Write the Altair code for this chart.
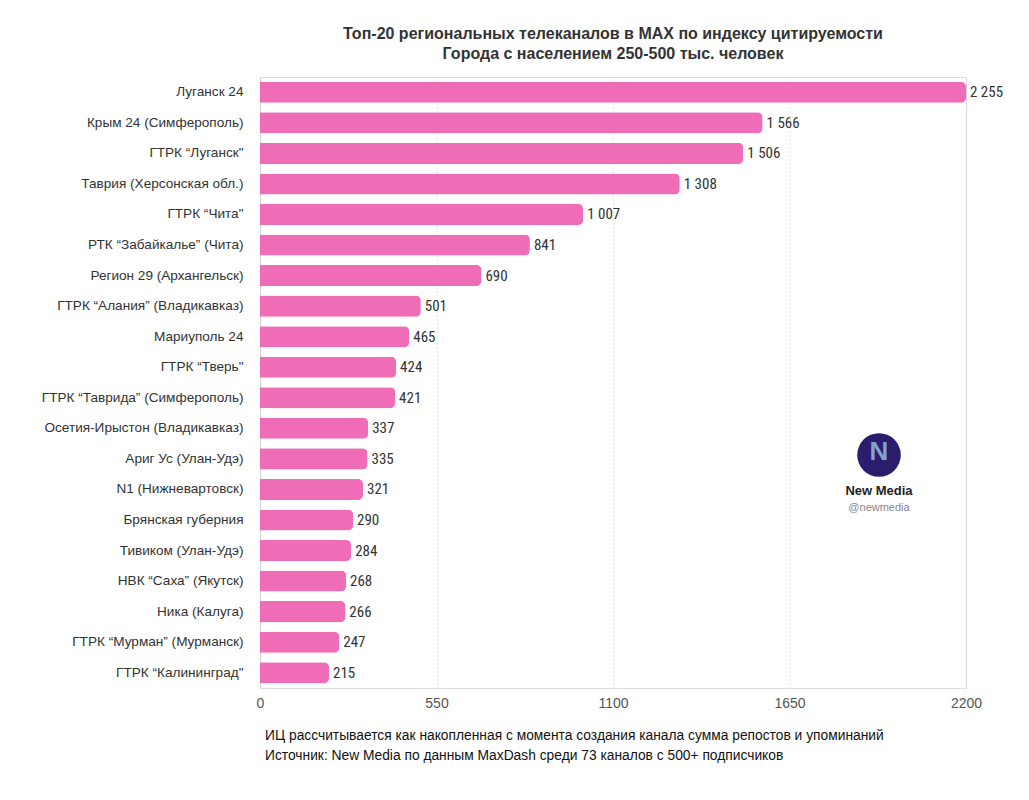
import altair as alt
import pandas as pd

channels = [
    "Луганск 24",
    "Крым 24 (Симферополь)",
    "ГТРК “Луганск\"",
    "Таврия (Херсонская обл.)",
    "ГТРК “Чита\"",
    "РТК “Забайкалье” (Чита)",
    "Регион 29 (Архангельск)",
    "ГТРК “Алания” (Владикавказ)",
    "Мариуполь 24",
    "ГТРК “Тверь\"",
    "ГТРК “Таврида” (Симферополь)",
    "Осетия-Ирыстон (Владикавказ)",
    "Ариг Ус (Улан-Удэ)",
    "N1 (Нижневартовск)",
    "Брянская губерния",
    "Тивиком (Улан-Удэ)",
    "НВК “Саха” (Якутск)",
    "Ника (Калуга)",
    "ГТРК “Мурман” (Мурманск)",
    "ГТРК “Калининград\"",
]
values = [2255, 1566, 1506, 1308, 1007, 841, 690, 501, 465, 424,
          421, 337, 335, 321, 290, 284, 268, 266, 247, 215]
x_ticks = [0, 550, 1100, 1650, 2200]

title_lines = [
    "Топ-20 региональных телеканалов в MAX по индексу цитируемости",
    "Города с населением 250-500 тыс. человек",
]
footer_lines = [
    "ИЦ рассчитывается как накопленная с момента создания канала сумма репостов и упоминаний",
    "Источник: New Media по данным MaxDash среди 73 каналов с 500+ подписчиков",
]
brand_name = "New Media"
brand_handle = "@newmedia"

W, H = 706, 611
FONT = "Liberation Sans, Arial, sans-serif"

df = pd.DataFrame({
    "channel": channels,
    "value": values,
    "label": [f"{v:,}".replace(",", " ") for v in values],
})

x_scale = alt.Scale(domain=[0, 2200], clamp=True, nice=False)
y_enc = alt.Y("channel:N", sort=channels,
              scale=alt.Scale(paddingInner=0.31, paddingOuter=0.155),
              axis=alt.Axis(title=None, labelFontSize=13.6, labelColor="#333333",
                            labelFont=FONT,
                            labelPadding=17, ticks=False, domain=True,
                            domainColor="#d0d0d0", domainWidth=1, grid=False,
                            labelLimit=300))

base = alt.Chart(df)

bars = base.mark_bar(color="#EF6DB7", cornerRadiusEnd=5).encode(
    x=alt.X("value:Q", scale=x_scale,
            axis=alt.Axis(values=x_ticks, title=None, labelFontSize=14,
                          labelColor="#555555",
                          labelFont=FONT, labelFlush=False,
                          labelPadding=8, ticks=False, domain=False,
                          grid=True, gridColor="#cccccc", gridDash=[1, 3],
                          gridWidth=1, format="d")),
    y=y_enc,
)

labels = base.mark_text(align="left", baseline="middle", dx=4, fontSize=15,
                        color="#333333",
                        font="Liberation Sans Narrow, Roboto Condensed, DejaVu Sans Condensed, sans-serif"
                        ).encode(
    x=alt.X("value:Q", scale=x_scale),
    y=alt.Y("channel:N", sort=channels),
    text="label:N",
)

foot1 = alt.Chart(pd.DataFrame({"t": [footer_lines[0]]})).mark_text(
    align="left", baseline="middle", fontSize=13.8, color="#111111", font=FONT
).encode(x=alt.value(5), y=alt.value(H + 48), text="t:N")
foot2 = alt.Chart(pd.DataFrame({"t": [footer_lines[1]]})).mark_text(
    align="left", baseline="middle", fontSize=13.8, color="#111111", font=FONT
).encode(x=alt.value(5), y=alt.value(H + 68), text="t:N")

logo = alt.Chart(pd.DataFrame({"a": [1]})).mark_point(
    shape="circle", filled=True, size=1900, color="#2b1c6e", opacity=1
).encode(x=alt.value(619), y=alt.value(378))
logo_n = alt.Chart(pd.DataFrame({"t": ["N"]})).mark_text(
    fontSize=26, fontWeight="bold", color="#7fa6c9", font=FONT
).encode(x=alt.value(619), y=alt.value(375), text="t:N")
brand1 = alt.Chart(pd.DataFrame({"t": [brand_name]})).mark_text(
    fontSize=13, fontWeight="bold", color="#222222", font=FONT
).encode(x=alt.value(619), y=alt.value(414), text="t:N")
brand2 = alt.Chart(pd.DataFrame({"t": [brand_handle]})).mark_text(
    fontSize=11, color="#888888", font=FONT
).encode(x=alt.value(619), y=alt.value(431), text="t:N")

chart = alt.layer(bars, labels, foot1, foot2, logo, logo_n, brand1, brand2).properties(
    width=W, height=H,
    autosize=alt.AutoSizeParams(type="none"),
    padding={"left": 252, "top": 69, "right": 50, "bottom": 100},
    title=alt.TitleParams(text=title_lines, fontSize=16, fontWeight="bold",
                          color="#333333", anchor="middle", lineHeight=20,
                          offset=15, font=FONT),
).configure_view(stroke=None).configure(background="white")

chart.save("out.html", embed_options={"renderer": "svg", "actions": False})
